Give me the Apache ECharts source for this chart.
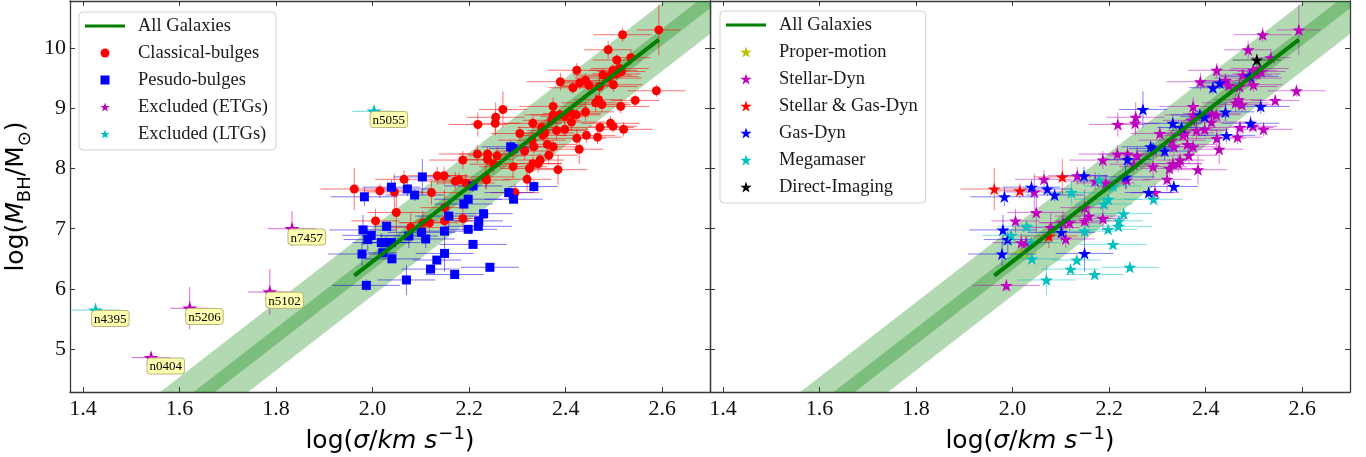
<!DOCTYPE html>
<html>
<head>
<meta charset="utf-8">
<script src="https://cdn.jsdelivr.net/npm/echarts@6/dist/echarts.min.js"></script>
<style>
  html, body { margin: 0; padding: 0; background: #ffffff; }
  #chart { width: 1366px; height: 457px; }
</style>
</head>
<body>
<div id="chart"></div>
<script>
// ---- Classical bulges: log sigma, log M_BH, errors, measurement method ----
const classicalSigma = [2.593,2.518,2.488,2.506,2.535,2.423,2.389,2.429,2.441,2.448,2.415,2.470,2.499,2.477,2.488,2.498,2.512,2.515,2.491,2.505,
  2.588,2.544,2.514,2.462,2.475,2.468,2.374,2.374,2.388,2.398,2.413,2.422,2.441,2.332,2.350,2.371,2.412,2.381,2.398,2.357,
  2.353,2.305,2.330,2.443,2.466,2.423,2.471,2.493,2.498,2.520,2.428,2.315,2.334,2.362,2.374,2.365,2.347,2.332,2.343,2.325,
  2.291,2.384,2.320,2.270,2.255,2.218,2.254,2.217,2.238,2.238,2.258,2.251,2.187,2.171,2.179,2.193,2.234,2.236,2.134,2.148,
  2.065,1.962,2.015,2.045,2.122,2.295,2.049,2.006,2.079,2.104,2.118,2.149,2.149,2.187];
const classicalLogM = [10.30,10.22,9.97,9.80,9.84,9.63,9.44,9.42,9.46,9.38,9.34,9.36,9.39,9.55,9.50,9.63,9.66,9.61,9.53,9.57,
  9.29,9.13,9.03,9.09,9.06,9.14,9.03,8.89,8.89,8.86,8.91,8.89,8.94,8.75,8.68,8.80,8.77,8.63,8.65,8.59,
  8.55,8.58,8.47,8.55,8.52,8.50,8.68,8.75,8.70,8.65,8.32,8.29,8.36,8.40,8.36,8.22,8.14,8.08,8.08,8.00,
  8.03,7.98,7.82,8.98,8.85,8.73,8.75,8.24,8.24,8.15,8.21,8.07,8.14,7.79,7.81,7.76,7.86,7.81,7.88,7.88,
  7.82,7.66,7.63,7.61,7.60,7.60,7.27,7.13,7.02,7.10,7.10,7.35,7.13,7.17];
const classicalSigmaErr = [0.045,0.06,0.05,0.05,0.04,0.06,0.07,0.05,0.05,0.06,0.05,0.08,0.06,0.06,0.07,0.05,0.06,0.05,0.06,0.05,
  0.06,0.05,0.06,0.07,0.06,0.05,0.07,0.06,0.06,0.05,0.06,0.05,0.06,0.06,0.05,0.06,0.07,0.06,0.05,0.06,
  0.05,0.06,0.07,0.06,0.05,0.06,0.07,0.06,0.05,0.06,0.05,0.06,0.05,0.06,0.05,0.06,0.05,0.06,0.05,0.06,
  0.07,0.06,0.05,0.05,0.06,0.06,0.05,0.08,0.06,0.05,0.06,0.05,0.07,0.06,0.05,0.06,0.06,0.05,0.06,0.05,
  0.06,0.07,0.05,0.06,0.06,0.05,0.06,0.05,0.06,0.05,0.06,0.05,0.06,0.05];
const classicalLogMErr = [0.42,0.12,0.15,0.10,0.12,0.12,0.15,0.10,0.12,0.12,0.10,0.15,0.12,0.10,0.12,0.10,0.12,0.10,0.12,0.10,
  0.10,0.10,0.12,0.15,0.12,0.10,0.15,0.12,0.10,0.12,0.12,0.10,0.15,0.12,0.10,0.12,0.15,0.15,0.12,0.12,
  0.10,0.12,0.15,0.12,0.12,0.15,0.10,0.12,0.10,0.12,0.25,0.15,0.12,0.15,0.12,0.15,0.12,0.12,0.15,0.15,
  0.20,0.25,0.20,0.30,0.25,0.20,0.20,0.15,0.12,0.10,0.15,0.15,0.15,0.15,0.12,0.15,0.20,0.15,0.15,0.15,
  0.15,0.35,0.12,0.30,0.20,0.15,0.35,0.20,0.25,0.20,0.15,0.30,0.25,0.20];
const classicalMethod = ['SD','SD','SD','DI','SD','SD','SD','GD','SD','SD','GD','SD','SD','SD','SD','SD','SD','SD','GD','SD',
  'SD','SD','GD','SD','SD','SD','SD','SD','GD','GD','SD','SD','GD','GD','GD','SD','SD','SD','SD','SD',
  'SD','SD','SD','GD','SD','SD','SD','GD','SD','SD','SD','GD','SD','SD','SD','SD','SD','SD','SD','SD',
  'SD','SD','SD','GD','SD','SD','SD','SD','SD','GD','SD','SD','SD','SD','MM','SD','GD','SD','SD','GD',
  'SD','SG','SG','SD','MM','SD','SD','SD','SD','SD','SD','SD','SD','SD'];

// ---- Pseudo bulges ----
const pseudoSigma = [2.103,2.039,2.072,2.087,1.983,2.208,2.198,2.189,2.230,2.158,2.220,2.219,2.198,2.149,2.101,2.110,2.075,2.029,1.980,1.997,
  1.990,2.018,2.028,2.039,1.978,2.021,2.040,2.149,2.133,2.120,2.170,2.208,2.243,2.070,1.987,2.282,2.292,2.334,2.286,2.291];
const pseudoLogM = [7.86,7.69,7.66,7.56,7.53,7.71,7.49,7.41,7.25,7.21,7.13,7.04,6.99,6.96,6.94,6.83,6.88,7.04,6.98,6.89,
  6.82,6.77,6.77,6.77,6.58,6.60,6.50,6.59,6.48,6.33,6.24,6.74,6.36,6.15,6.06,7.60,7.49,7.70,8.36,8.33];
const pseudoSigmaErr = [0.06,0.06,0.05,0.06,0.07,0.06,0.07,0.06,0.06,0.07,0.05,0.07,0.06,0.06,0.07,0.06,0.06,0.06,0.07,0.06,
  0.05,0.06,0.05,0.06,0.07,0.03,0.06,0.06,0.05,0.06,0.06,0.07,0.06,0.06,0.07,0.05,0.06,0.05,0.06,0.05];
const pseudoLogMErr = [0.30,0.12,0.12,0.10,0.15,0.10,0.05,0.05,0.05,0.20,0.05,0.05,0.05,0.05,0.15,0.15,0.20,0.05,0.25,0.05,
  0.20,0.15,0.10,0.05,0.20,0.03,0.05,0.30,0.05,0.05,0.05,0.05,0.05,0.25,0.10,0.10,0.05,0.10,0.10,0.10];
const pseudoMethod = ['SG','GD','GD','GD','GD','MM','MM','MM','MM','SD','MM','MM','MM','MM','GD','SD','SG','MM','GD','MM',
  'GD','SD','SD','MM','GD','PM','MM','GD','MM','MM','MM','MM','MM','MM','SD','GD','MM','GD','GD','GD'];

// ---- Galaxies left out of the fit ----
const excludedNames = ['n7457','n5102','n5206','n0404','n4395','n5055'];
const excludedType = ['ETG','ETG','ETG','ETG','LTG','LTG'];
const excludedSigma = [1.833,1.787,1.621,1.541,1.426,2.003];
const excludedLogM = [7.00,5.95,5.68,4.86,5.65,8.95];
const excludedSigmaErr = [0.05,0.045,0.04,0.04,0.05,0.045];
const excludedLogMErr = [0.29,0.38,0.35,0.10,0.12,0.05];

// ---- Fit to all galaxies: log M = fitAtPivot + fitSlope * (log sigma - fitPivot) ----
const fitPivot = 2.3, fitAtPivot = 8.32, fitSlope = 6.21;
const fitInnerHalfWidth = 0.137, fitOuterHalfWidth = 0.565;

// ---- Axes ----
const sigmaRange = [1.373, 2.699];
const massRange = [4.29, 10.78];
const sigmaTicks = [1.4, 1.6, 1.8, 2.0, 2.2, 2.4, 2.6];
const massTicks = [5, 6, 7, 8, 9, 10];

// ---- Methods (right panel) ----
const methodKeys = ['PM','SD','SG','GD','MM','DI'];
const methodNames = ['Proper-motion','Stellar-Dyn','Stellar & Gas-Dyn','Gas-Dyn','Megamaser','Direct-Imaging'];
const methodColors = ['#bfbf00','#bf00bf','#ff0000','#0000ff','#00bfbf','#000000'];

function starSymbol() {
  const pts = [];
  for (let k = 0; k < 10; k++) {
    const r = k % 2 ? 0.382 : 1;
    const a = -Math.PI / 2 + k * Math.PI / 5;
    pts.push((r * Math.cos(a)).toFixed(4) + ' ' + (r * Math.sin(a)).toFixed(4));
  }
  return 'path://M' + pts.join(' L') + ' Z';
}
const STAR = starSymbol();
const SQUARE = 'path://M0 0 L1 0 L1 1 L0 1 Z';
const BAR = 'path://M0 0 L40 0 L40 3.2 L0 3.2 Z';

function rgba(hex, a) {
  const n = parseInt(hex.slice(1), 16);
  return 'rgba(' + (n >> 16 & 255) + ',' + (n >> 8 & 255) + ',' + (n & 255) + ',' + a + ')';
}

function fitAt(x) { return fitAtPivot + fitSlope * (x - fitPivot); }

function errorBars(name, rows, color, axis) {
  return {
    type: 'custom', name: name, xAxisIndex: axis, yAxisIndex: axis, clip: true, silent: true,
    data: rows, encode: { x: 0, y: 1 },
    renderItem: function (params, api) {
      const x = api.value(0), y = api.value(1), xe = api.value(2), ye = api.value(3);
      const a = api.coord([x - xe, y]), b = api.coord([x + xe, y]);
      const c = api.coord([x, y - ye]), d = api.coord([x, y + ye]);
      return { type: 'group', children: [
        { type: 'line', shape: { x1: a[0], y1: a[1], x2: b[0], y2: b[1] }, style: { stroke: color, lineWidth: 1 } },
        { type: 'line', shape: { x1: c[0], y1: c[1], x2: d[0], y2: d[1] }, style: { stroke: color, lineWidth: 1 } }
      ] };
    }
  };
}

function markers(name, rows, color, symbol, size, axis) {
  return {
    type: 'scatter', name: name, xAxisIndex: axis, yAxisIndex: axis,
    symbol: symbol, symbolSize: size, symbolKeepAspect: true,
    itemStyle: { color: color, opacity: 1 },
    data: rows.map(r => r.slice(0, 2))
  };
}

function band(halfWidth, axis) {
  return {
    type: 'custom', name: 'band', xAxisIndex: axis, yAxisIndex: axis, clip: true, silent: true, z: 1,
    data: [[sigmaRange[0], massRange[0]]],
    renderItem: function (params, api) {
      const x0 = sigmaRange[0] - 0.2, x1 = sigmaRange[1] + 0.2;
      const pts = [
        api.coord([x0, fitAt(x0) + halfWidth]), api.coord([x1, fitAt(x1) + halfWidth]),
        api.coord([x1, fitAt(x1) - halfWidth]), api.coord([x0, fitAt(x0) - halfWidth])
      ];
      return { type: 'polygon', shape: { points: pts }, style: { fill: 'rgba(0,128,0,0.3)' } };
    }
  };
}

function fitLine(axis) {
  const all = classicalSigma.concat(pseudoSigma);
  const lo = Math.min.apply(null, all), hi = Math.max.apply(null, all);
  return {
    type: 'line', name: 'All Galaxies', xAxisIndex: axis, yAxisIndex: axis,
    symbol: 'none', lineStyle: { color: '#008000', width: 4 }, itemStyle: { color: '#008000' },
    data: [[lo, fitAt(lo)], [hi, fitAt(hi)]]
  };
}

function rows(sig, m, se, me) { return sig.map((s, i) => [s, m[i], se[i], me[i]]); }

const classicalRows = rows(classicalSigma, classicalLogM, classicalSigmaErr, classicalLogMErr);
const pseudoRows = rows(pseudoSigma, pseudoLogM, pseudoSigmaErr, pseudoLogMErr);
const excludedRows = rows(excludedSigma, excludedLogM, excludedSigmaErr, excludedLogMErr);

const tagLabel = {
  show: true, formatter: '{b}', position: [4, 8],
  fontFamily: 'Liberation Serif', fontSize: 13, color: '#000',
  backgroundColor: '#ffffb0', borderColor: '#b9b97a', borderWidth: 1, borderRadius: 3, padding: [2, 2, 0, 2]
};

function excludedSeries(type, name, color) {
  const idx = excludedType.map((t, i) => t === type ? i : -1).filter(i => i >= 0);
  const sub = idx.map(i => excludedRows[i]);
  return [
    errorBars(name + ' errors', sub, rgba(color, 0.6), 0),
    {
      type: 'scatter', name: name, xAxisIndex: 0, yAxisIndex: 0, symbol: STAR, symbolSize: 15, symbolKeepAspect: true,
      itemStyle: { color: color, opacity: 1 }, label: tagLabel,
      data: idx.map(i => ({ name: excludedNames[i], value: [excludedSigma[i], excludedLogM[i]] }))
    }
  ];
}

const series = [];
// left panel
series.push(band(fitOuterHalfWidth, 0), band(fitInnerHalfWidth, 0), fitLine(0));
series.push(errorBars('Classical errors', classicalRows, 'rgba(255,0,0,0.55)', 0));
series.push(markers('Classical-bulges', classicalRows, '#ff0000', 'circle', 9, 0));
series.push(errorBars('Pseudo errors', pseudoRows, 'rgba(30,0,230,0.55)', 0));
series.push(markers('Pesudo-bulges', pseudoRows, '#0000ff', SQUARE, 9, 0));
series.push.apply(series, excludedSeries('ETG', 'Excluded (ETGs)', '#bf00bf'));
series.push.apply(series, excludedSeries('LTG', 'Excluded (LTGs)', '#00bfbf'));
// right panel
series.push(band(fitOuterHalfWidth, 1), band(fitInnerHalfWidth, 1), fitLine(1));
const allRows = classicalRows.concat(pseudoRows);
const allMethods = classicalMethod.concat(pseudoMethod);
methodKeys.forEach((key, k) => {
  const sub = allRows.filter((r, i) => allMethods[i] === key);
  series.push(errorBars(methodNames[k] + ' errors', sub, rgba(methodColors[k], 0.5), 1));
  series.push(markers(methodNames[k], sub, methodColors[k], STAR, 13, 1));
});

const AXIS_COLOR = '#3a3a3a';
const tickFont = { fontFamily: 'Liberation Serif', fontSize: 22, color: '#111' };
// math-style axis titles: normal / italic tokens sit on a shared bottom, sub- and superscripts shifted
const titleRich = {
  n: { fontFamily: 'DejaVu Sans', fontSize: 25, color: '#000', verticalAlign: 'bottom', padding: [0, 0, 5, 0] },
  i: { fontFamily: 'DejaVu Sans', fontStyle: 'italic', fontSize: 25, color: '#000', verticalAlign: 'bottom', padding: [0, 0, 5, 0] },
  sup: { fontFamily: 'DejaVu Sans', fontSize: 18, color: '#000', verticalAlign: 'bottom', padding: [0, 0, 16, 1] },
  sub: { fontFamily: 'DejaVu Sans', fontSize: 18, color: '#000', verticalAlign: 'bottom', padding: [0, 0, 0, 0] }
};

function xAxis(grid, pos, labels) {
  return {
    type: 'value', gridIndex: grid, position: pos, min: sigmaRange[0], max: sigmaRange[1],
    axisLine: { show: true, onZero: false, lineStyle: { color: AXIS_COLOR, width: 1.3 } },
    axisTick: { show: true, inside: true, length: 5, customValues: sigmaTicks, lineStyle: { color: AXIS_COLOR, width: 1 } },
    axisLabel: Object.assign({ show: labels, margin: 6, customValues: sigmaTicks, formatter: v => v.toFixed(1) }, tickFont),
    splitLine: { show: false },
    name: labels ? '{n|log(}{i|σ}{n|/}{i|km s}{sup|−1}{n|)}' : '',
    nameLocation: 'middle', nameGap: 32,
    nameTextStyle: { rich: titleRich }
  };
}

function yAxis(grid, pos, labels, title) {
  return {
    type: 'value', gridIndex: grid, position: pos, min: massRange[0], max: massRange[1],
    axisLine: { show: true, onZero: false, lineStyle: { color: AXIS_COLOR, width: 1.3 } },
    axisTick: { show: true, inside: true, length: 5, customValues: massTicks, lineStyle: { color: AXIS_COLOR, width: 1 } },
    axisLabel: Object.assign({ show: labels, margin: 4, customValues: massTicks, formatter: v => String(Math.round(v)) }, tickFont),
    splitLine: { show: false },
    name: title ? '{n|log(}{i|M}{sub|BH}{n|/M}{sub|⊙}{n|)}' : '',
    nameLocation: 'middle', nameGap: 36,
    nameTextStyle: { rich: titleRich }
  };
}

const legendBase = {
  orient: 'vertical', itemWidth: 40, itemHeight: 9, itemGap: 7, selectedMode: false,
  backgroundColor: 'rgba(255,255,255,0.85)', borderColor: '#d0d0d0', borderWidth: 1, borderRadius: 4,
  textStyle: { fontFamily: 'Liberation Serif', fontSize: 18.5, color: '#1a1a1a', lineHeight: 20, padding: [0, 0, 0, 8] }
};

const option = {
  animation: false,
  backgroundColor: '#ffffff',
  grid: [
    { left: 70, top: 1, width: 640, height: 391, containLabel: false, outerBoundsMode: 'none' },
    { left: 710, top: 1, width: 640, height: 391, containLabel: false, outerBoundsMode: 'none' }
  ],
  xAxis: [xAxis(0, 'bottom', true), xAxis(1, 'bottom', true), xAxis(0, 'top', false), xAxis(1, 'top', false)],
  yAxis: [yAxis(0, 'left', true, true), yAxis(1, 'left', false, false), yAxis(0, 'right', false, false), yAxis(1, 'right', false, false)],
  legend: [
    Object.assign({}, legendBase, { left: 79, top: 12, padding: [4, 8, 6, 6],
      data: [{ name: 'All Galaxies', icon: BAR }, 'Classical-bulges', 'Pesudo-bulges', 'Excluded (ETGs)', 'Excluded (LTGs)'] }),
    Object.assign({}, legendBase, { left: 720, top: 11, padding: [4, 8, 6, 6], itemHeight: 11,
      data: [{ name: 'All Galaxies', icon: BAR }].concat(methodNames) })
  ],
  series: series
};

const chart = echarts.init(document.getElementById('chart'), null, { renderer: 'canvas' });
chart.setOption(option);
</script>
</body>
</html>
